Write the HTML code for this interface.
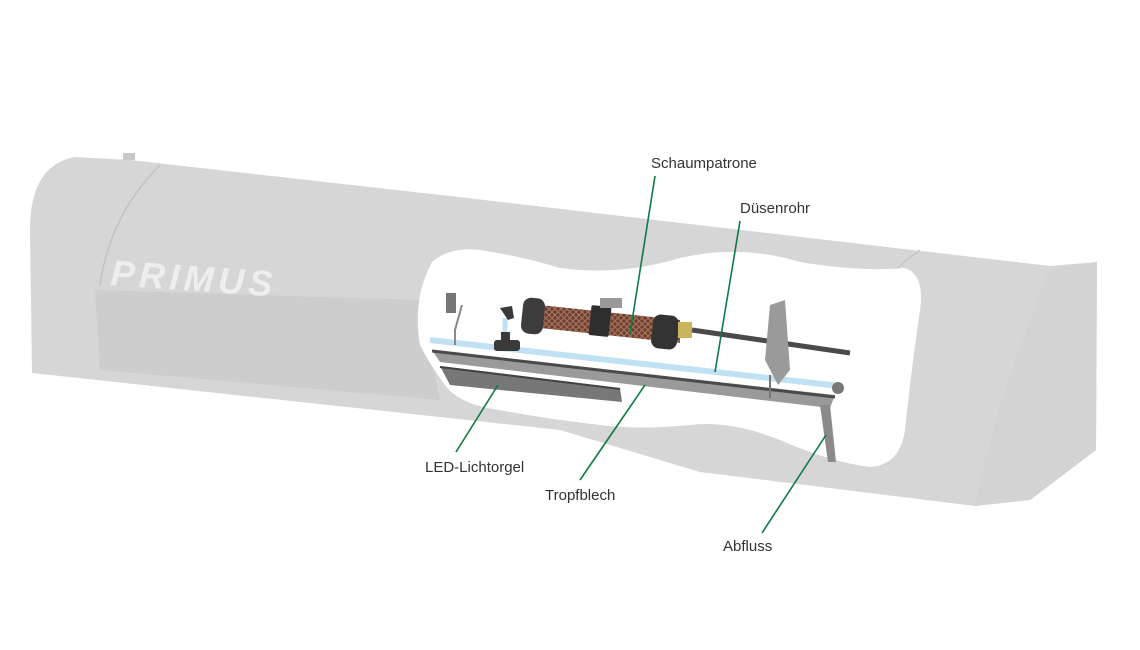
<!DOCTYPE html>
<html><head><meta charset="utf-8"><style>
html,body{margin:0;padding:0;background:#fff;}
svg{display:block}
text{font-family:"Liberation Sans",sans-serif;font-size:15px;fill:#333}
</style></head><body>
<svg width="1140" height="650" viewBox="0 0 1140 650">
<defs>
<pattern id="brown" width="6" height="6" patternUnits="userSpaceOnUse">
<rect width="6" height="6" fill="#6b3f2e"/><path d="M0 0L6 6M6 0L0 6" stroke="#a3715a" stroke-width="1.2"/>
</pattern>
</defs>
<!-- body -->
<path d="M75 157 L130 160 L450 196 L1050 266 L1097 262 L1096 450 L1030 500 L975 506 L700 472 L560 430 L32 373 L30 230 Q30 165 75 157 Z" fill="#d6d6d6"/>
<path d="M95 290 L420 300 L440 400 L100 370 Z" fill="#cdcdcd"/>
<path d="M160 165 Q110 215 100 285" stroke="#c2c2c2" fill="none" stroke-width="1.5"/>
<path d="M920 250 Q885 275 870 300" stroke="#c6c6c6" fill="none" stroke-width="1.5"/>
<path d="M1055 268 L1097 262 L1096 450 L1030 500 L975 506 Q990 420 1050 268 Z" fill="#d3d3d3"/>
<path d="M123 153 L135 153 L135 160 L123 160Z" fill="#c8c8c8"/>
<text x="110" y="285" textLength="162" style="font-size:36px;font-weight:bold;font-style:italic;fill:#eeeeee" transform="rotate(4 110 285)">PRIMUS</text>
<!-- cutout -->
<path d="M432 262 Q450 246 480 250 Q520 256 560 268 Q620 276 680 258 Q740 244 800 262 Q860 272 905 268 Q925 275 920 310 Q910 380 905 430 Q900 465 870 467 Q830 462 780 440 Q730 420 690 425 Q640 430 600 425 Q540 418 500 410 Q460 405 445 385 Q430 365 420 345 Q412 300 432 262 Z" fill="#fff"/>
<!-- blue tube -->
<line x1="430" y1="340" x2="840" y2="386" stroke="#bfe1f3" stroke-width="6"/>
<line x1="505" y1="318" x2="505" y2="342" stroke="#bfe1f3" stroke-width="5"/>
<!-- tropfblech -->
<polygon points="432,350 835,395 830,408 440,362" fill="#9a9a9a"/>
<line x1="432" y1="351" x2="835" y2="397" stroke="#4a4a4a" stroke-width="3"/>
<!-- LED bar -->
<polygon points="440,366 620,388 622,402 450,385" fill="#777"/>
<line x1="440" y1="367" x2="620" y2="389" stroke="#444" stroke-width="2"/>
<!-- abfluss -->
<polygon points="820,405 830,405 836,462 828,462" fill="#8a8a8a"/>
<!-- left bracket -->
<rect x="446" y="293" width="10" height="20" fill="#777"/>
<path d="M462 305 L455 330 L455 345" stroke="#888" stroke-width="2" fill="none"/>
<!-- fittings -->
<path d="M500 308 L512 306 L514 318 L508 320 Z" fill="#3a3a3a"/>
<rect x="494" y="340" width="26" height="11" rx="3" fill="#3a3a3a"/>
<rect x="501" y="332" width="9" height="12" fill="#3a3a3a"/>
<!-- cartridge -->
<polygon points="540,305 680,320 680,343 540,328" fill="url(#brown)"/>
<rect x="522" y="298" width="22" height="36" rx="8" fill="#3c3c3c" transform="rotate(6 533 316)"/>
<rect x="590" y="306" width="20" height="30" rx="2" fill="#2e2e2e" transform="rotate(6 600 321)"/>
<rect x="600" y="298" width="22" height="10" fill="#999"/>
<rect x="652" y="315" width="26" height="34" rx="8" fill="#333" transform="rotate(6 665 332)"/>
<rect x="678" y="322" width="14" height="16" fill="#c9b45c"/>
<!-- nozzle rod -->
<line x1="692" y1="330" x2="850" y2="353" stroke="#4a4a4a" stroke-width="5"/>
<!-- right bracket -->
<polygon points="770,305 785,300 790,370 778,385 765,360" fill="#9a9a9a"/>
<line x1="770" y1="375" x2="770" y2="398" stroke="#777" stroke-width="2"/>
<circle cx="838" cy="388" r="6" fill="#777"/>
<!-- leader lines -->
<g stroke="#0e7a46" stroke-width="1.6">
<line x1="655" y1="176" x2="630" y2="334"/>
<line x1="740" y1="221" x2="715" y2="372"/>
<line x1="456" y1="452" x2="498" y2="385"/>
<line x1="580" y1="480" x2="645" y2="385"/>
<line x1="762" y1="533" x2="826" y2="435"/>
</g>
<text x="651" y="168">Schaumpatrone</text>
<text x="740" y="213">Düsenrohr</text>
<text x="425" y="472">LED-Lichtorgel</text>
<text x="545" y="500">Tropfblech</text>
<text x="723" y="551">Abfluss</text>
</svg>
</body></html>
